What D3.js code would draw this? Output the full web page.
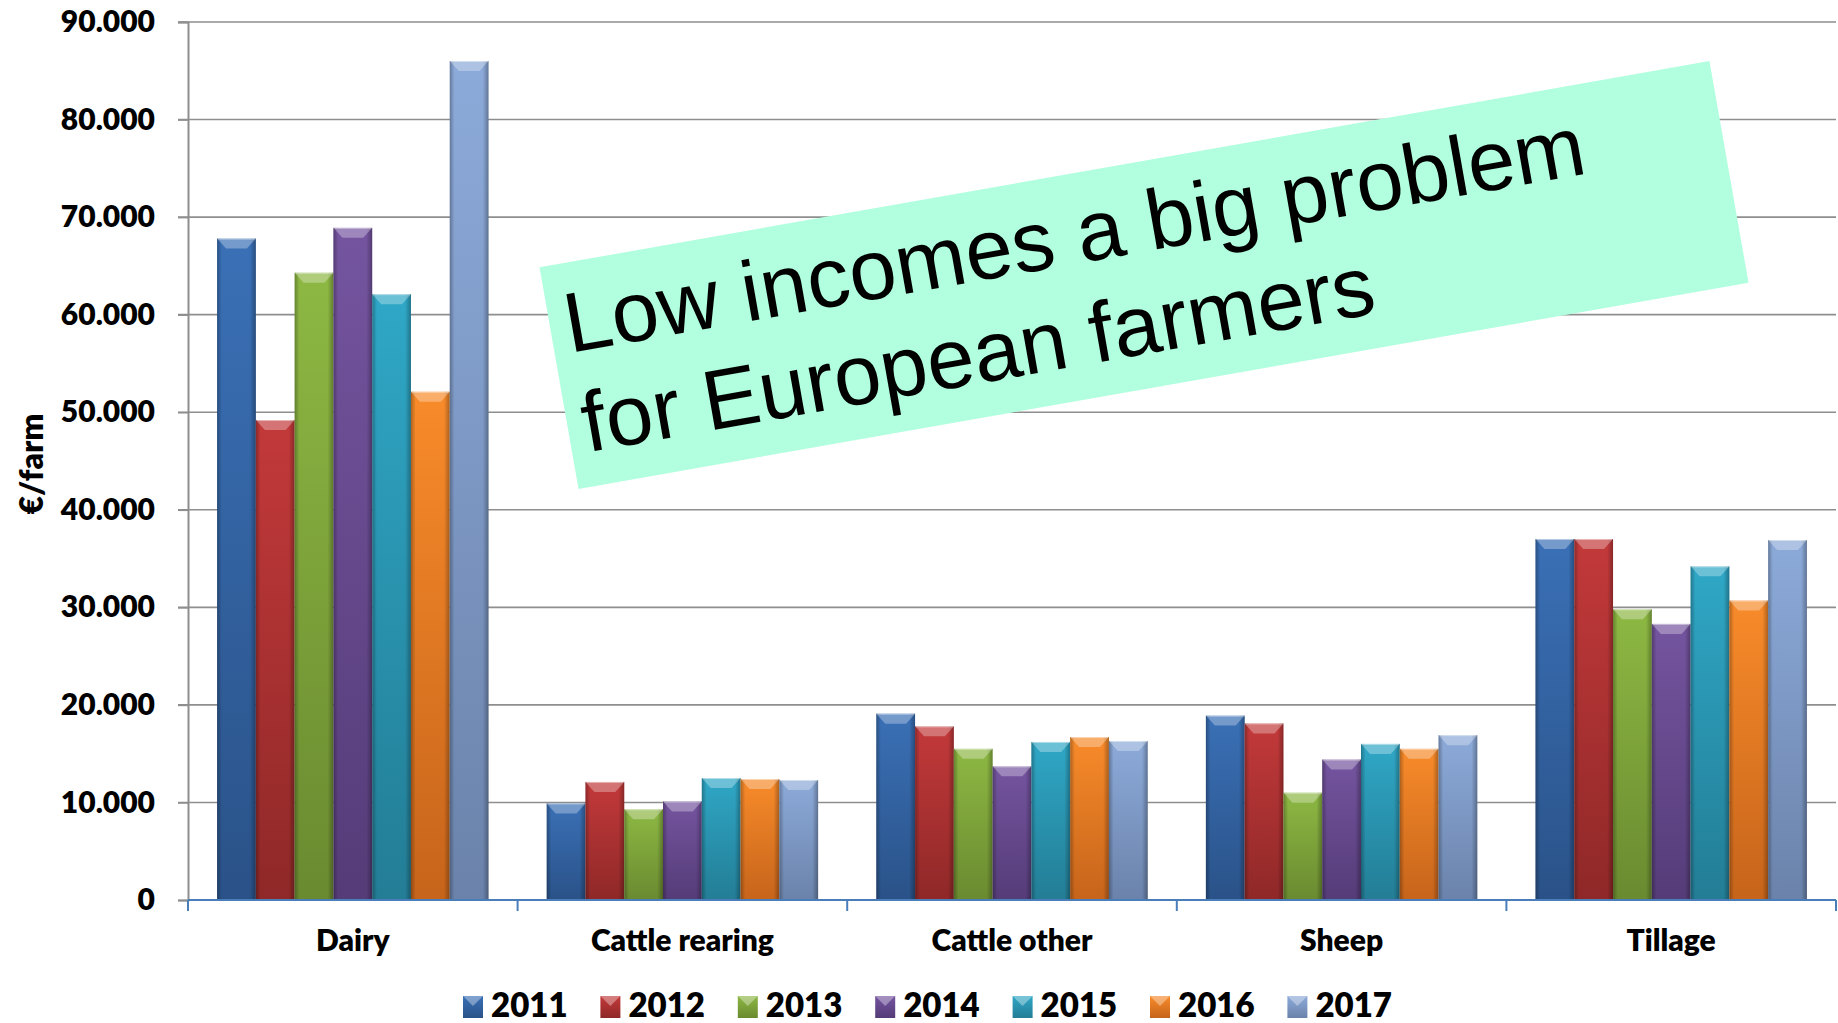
<!DOCTYPE html>
<html>
<head>
<meta charset="utf-8">
<script src="https://d3js.org/d3.v7.min.js"></script>
<style>
  body { margin:0; background:#fff; }
  svg { display:block; }
  text { font-family: Lato, "Open Sans", sans-serif; font-weight:800; fill:#000; }
</style>
</head>
<body>
<svg id="chart" width="1838" height="1023"></svg>
<script>
// data (€/farm)
const categories = ["Dairy", "Cattle rearing", "Cattle other", "Sheep", "Tillage"];
const years = ["2011", "2012", "2013", "2014", "2015", "2016", "2017"];
const v2011 = [67800, 9900, 19100, 18900, 37000];
const v2012 = [49200, 12100, 17800, 18100, 37000];
const v2013 = [64300, 9300, 15500, 11000, 29800];
const v2014 = [68900, 10100, 13700, 14400, 28300];
const v2015 = [62100, 12500, 16200, 16000, 34200];
const v2016 = [52100, 12400, 16700, 15500, 30700];
const v2017 = [86000, 12300, 16300, 16900, 36900];
const yTicks = [0, 10000, 20000, 30000, 40000, 50000, 60000, 70000, 80000, 90000];
const colors = ["#3a70b6", "#c3393a", "#8db843", "#74549f", "#2fa7c6", "#f88b2a", "#8caad9"];
const darks  = ["#2a5288", "#8f2828", "#6a8a30", "#553c78", "#237d95", "#c6641b", "#6b83ab"];

const series = [v2011, v2012, v2013, v2014, v2015, v2016, v2017];

const svg = d3.select("#chart");
const defs = svg.append("defs");

const locale = d3.formatLocale({decimal: ",", thousands: ".", grouping: [3], currency: ["€", ""]});
const fmt = locale.format(",d");

const x0 = d3.scaleBand().domain(categories).range([188, 1836]).paddingInner(0).paddingOuter(0);
const x1 = d3.scaleBand().domain(years).range([0, x0.bandwidth()]).paddingInner(0).paddingOuter(0.75);
const y = d3.scaleLinear().domain([0, 90000]).range([900, 22]);

// gradients per series
years.forEach((yr, i) => {
  const g = defs.append("linearGradient").attr("id", "gv" + i)
    .attr("x1", 0).attr("y1", 0).attr("x2", 0).attr("y2", 1);
  g.append("stop").attr("offset", 0).attr("stop-color", colors[i]);
  g.append("stop").attr("offset", 1).attr("stop-color", darks[i]);
});
const gh = defs.append("linearGradient").attr("id", "edge")
  .attr("x1", 0).attr("y1", 0).attr("x2", 1).attr("y2", 0);
gh.append("stop").attr("offset", 0).attr("stop-color", "#000").attr("stop-opacity", 0.28);
gh.append("stop").attr("offset", 0.12).attr("stop-color", "#000").attr("stop-opacity", 0);
gh.append("stop").attr("offset", 0.85).attr("stop-color", "#000").attr("stop-opacity", 0);
gh.append("stop").attr("offset", 1).attr("stop-color", "#000").attr("stop-opacity", 0.3);

// gridlines
svg.append("g").selectAll("line").data(yTicks.slice(1)).join("line")
  .attr("x1", 178).attr("x2", 1836)
  .attr("y1", d => y(d)).attr("y2", d => y(d))
  .attr("stroke", "#8e8e8e").attr("stroke-width", 1.6);

// y axis
const yAxis = svg.append("g").attr("transform", "translate(188,0)")
  .call(d3.axisLeft(y).tickValues(yTicks).tickFormat(fmt).tickSize(10).tickPadding(23));
yAxis.select(".domain").attr("stroke", "#8e8e8e").attr("stroke-width", 2);
yAxis.selectAll(".tick line").attr("stroke", "#8e8e8e").attr("stroke-width", 1.6);
yAxis.selectAll(".tick text").style("font-size", "30px").attr("font-family", null).attr("fill", "#000");

svg.append("text")
  .attr("transform", "translate(43,464) rotate(-90)")
  .attr("text-anchor", "middle")
  .style("font-size", "32px")
  .text("€/farm");

// bars
const groups = svg.append("g").selectAll("g").data(categories).join("g")
  .attr("transform", d => `translate(${x0(d)},0)`);

groups.each(function(cat, ci) {
  const g = d3.select(this);
  const bw = x1.bandwidth();
  years.forEach((yr, si) => {
    const val = series[si][ci];
    const bx = x1(yr), by = y(val), bh = y(0) - y(val);
    g.append("rect").attr("x", bx).attr("y", by).attr("width", bw).attr("height", bh)
      .attr("fill", `url(#gv${si})`);
    g.append("rect").attr("x", bx).attr("y", by).attr("width", bw).attr("height", bh)
      .attr("fill", "url(#edge)");
    // bevelled top
    g.append("polygon")
      .attr("points", [[bx, by], [bx + bw, by], [bx + bw - 9, by + 10], [bx + 9, by + 10]].map(p => p.join(",")).join(" "))
      .attr("fill", "#fff").attr("fill-opacity", 0.3);
    g.append("line").attr("x1", bx + 1).attr("x2", bx + bw - 1).attr("y1", by + 0.5).attr("y2", by + 0.5)
      .attr("stroke", "#fff").attr("stroke-opacity", 0.45);
  });
});

// x axis
const xAxis = svg.append("g").attr("transform", "translate(0,900)");
xAxis.append("line").attr("x1", 188).attr("x2", 1836).attr("y1", 0).attr("y2", 0)
  .attr("stroke", "#4a7ebb").attr("stroke-width", 2);
xAxis.selectAll("line.tk").data(categories.map(c => x0(c)).concat([x0(categories[categories.length - 1]) + x0.bandwidth()]))
  .join("line").attr("class", "tk")
  .attr("x1", d => d).attr("x2", d => d).attr("y1", 0).attr("y2", 11)
  .attr("stroke", "#4a7ebb").attr("stroke-width", 2);
xAxis.selectAll("text").data(categories).join("text")
  .attr("x", d => x0(d) + x0.bandwidth() / 2).attr("y", 51)
  .attr("text-anchor", "middle").style("font-size", "30px").text(d => d);

// legend
const legend = svg.append("g").attr("transform", "translate(463,996)");
const li = legend.selectAll("g").data(years).join("g")
  .attr("transform", (d, i) => `translate(${i * 137.4},0)`);
li.append("rect").attr("width", 20).attr("height", 22).attr("fill", (d, i) => `url(#gv${i})`);
li.append("polygon").attr("points", "0,0 20,0 10,10").attr("fill", "#fff").attr("fill-opacity", 0.35);
li.append("text").attr("x", 28).attr("y", 21).style("font-size", "33px").text(d => d);

// annotation box
const note = svg.append("g").attr("transform", "translate(1144,275) rotate(-10)");
note.append("rect").attr("x", -594).attr("y", -112.5).attr("width", 1188).attr("height", 225)
  .attr("fill", "#b2ffdf");
const noteText = note.append("text")
  .style("font-family", "'Liberation Sans', Arial, sans-serif").style("font-weight", 400)
  .style("font-size", "85px");
noteText.append("tspan").attr("x", -579).attr("y", -23).text("Low incomes a big problem");
noteText.append("tspan").attr("x", -579).attr("y", 78).text("for European farmers");
</script>
</body>
</html>
